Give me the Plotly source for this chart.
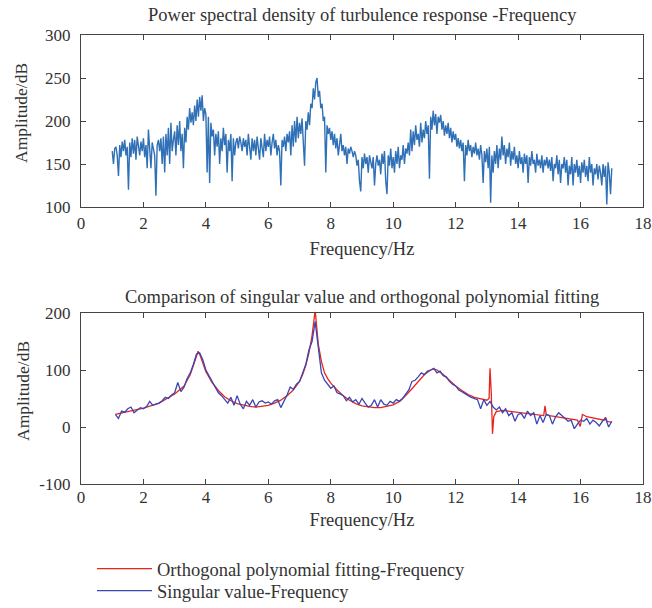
import numpy as np
import plotly.graph_objects as go

# ---------------- data ----------------
# Top: power spectral density (dB), frequency grid 1.00 .. 17.00 step 0.04 Hz
psd_freq = np.round(1.0 + 0.04 * np.arange(401), 2)
psd_db = [
    165, 150, 168, 170, 160, 136, 172, 158, 176, 165, 178, 160, 170, 120, 175, 158, 180, 162, 178, 155, 182, 168, 160, 176, 165,
    180, 158, 172, 145, 190, 170, 145, 175, 168, 160, 113, 172, 178, 165, 180, 150, 182, 140, 185, 160, 192, 150, 198, 165, 178,
    188, 160, 195, 172, 200, 165, 185, 145, 192, 175, 205, 190, 215, 198, 210, 195, 218, 200, 225, 205, 228, 212, 230, 200, 215,
    208, 140, 205, 128, 198, 182, 190, 160, 185, 170, 188, 150, 180, 165, 192, 172, 185, 140, 178, 165, 185, 130, 180, 160, 175,
    180, 168, 182, 175, 165, 180, 170, 178, 160, 185, 170, 155, 180, 165, 178, 160, 182, 168, 155, 180, 170, 158, 185, 165, 178,
    170, 182, 160, 175, 185, 168, 178, 160, 172, 165, 125, 178, 170, 182, 165, 185, 175, 188, 160, 195, 170, 200, 175, 205, 180,
    198, 185, 203, 180, 148, 200, 190, 210, 195, 220, 215, 238, 225, 245, 250, 228, 235, 215, 220, 200, 205, 140, 195, 185, 192,
    178, 188, 172, 185, 168, 180, 160, 175, 185, 165, 172, 160, 170, 150, 168, 162, 170, 165, 158, 165, 160, 148, 155, 130, 118,
    158, 145, 162, 150, 158, 140, 160, 152, 145, 158, 125, 150, 160, 148, 155, 138, 162, 150, 165, 130, 115, 160, 148, 168, 145,
    158, 140, 165, 150, 170, 145, 160, 155, 172, 150, 168, 162, 175, 160, 190, 165, 188, 172, 195, 178, 185, 170, 198, 175, 190,
    180, 200, 185, 195, 133, 205, 190, 212, 195, 208, 185, 205, 198, 207, 190, 200, 183, 195, 185, 198, 180, 192, 175, 188, 178,
    185, 170, 180, 168, 178, 165, 175, 130, 172, 160, 178, 165, 172, 158, 170, 162, 175, 160, 168, 155, 172, 160, 128, 165, 152,
    168, 145, 170, 105, 160, 140, 165, 150, 172, 145, 168, 155, 182, 160, 172, 150, 168, 158, 175, 148, 165, 155, 170, 150, 160,
    145, 165, 150, 158, 140, 162, 150, 160, 128, 158, 148, 165, 150, 155, 140, 162, 148, 155, 145, 160, 140, 155, 148, 158, 145,
    155, 142, 158, 130, 150, 145, 160, 138, 155, 128, 150, 145, 158, 140, 155, 125, 148, 138, 158, 125, 150, 140, 155, 135, 148,
    128, 152, 140, 155, 135, 148, 130, 158, 140, 150, 125, 145, 138, 150, 132, 148, 140, 125, 150, 135, 148, 103, 152, 140, 115,
    145,
]

# Bottom: singular value (dB), frequency grid 1.1 .. 17.0 step 0.1 Hz
sv_freq = np.round(1.1 + 0.1 * np.arange(160), 2)
sv_db = [
    22, 15, 28, 26, 32, 35, 25, 30, 34, 32,
    36, 45, 38, 40, 42, 46, 52, 50, 56, 60,
    78, 62, 70, 85, 95, 110, 128, 130, 118, 100,
    90, 78, 70, 60, 55, 48, 42, 52, 38, 55,
    40, 32, 45, 38, 48, 35, 44, 46, 42, 44,
    40, 46, 48, 34, 45, 56, 70, 66, 75, 80,
    95, 110, 135, 150, 185, 140, 95, 82, 75, 68,
    72, 60, 58, 55, 46, 52, 44, 48, 40, 50,
    42, 35, 38, 48, 35, 48, 40, 38, 45, 42,
    48, 45, 50, 58, 65, 80, 82, 88, 95, 92,
    98, 100, 103, 95, 98, 90, 88, 80, 75, 72,
    65, 62, 58, 55, 52, 50, 48, 32, 48, 38,
    45, 35, 30, 35, 25, 32, 20, 25, 10, 22,
    24, 15, 28, 20, 25, 5, 20, 8, 22, 20,
    5, 18, 25, 20, 15, 10, 12, -3, 5, 12,
    10, 15, 5, 12, 8, 2, 10, 15, 0, 10,
]

# Bottom: orthogonal polynomial fit (dB)
fit_freq = [
    1.1, 1.5, 2.0, 2.5, 3.0, 3.3, 3.5, 3.6, 3.7, 3.75, 3.8, 3.9, 4.0, 4.2, 4.4, 4.6, 4.8, 5.0,
    5.2, 5.4, 5.6, 5.8, 6.0, 6.2, 6.4, 6.6, 6.8, 7.0, 7.1, 7.2, 7.3, 7.4, 7.45, 7.5, 7.55, 7.6,
    7.7, 7.8, 7.9, 8.0, 8.2, 8.4, 8.6, 8.8, 9.0, 9.2, 9.4, 9.6, 9.8, 10.0, 10.2, 10.4, 10.6,
    10.8, 11.0, 11.2, 11.3, 11.4, 11.6, 11.8, 12.0, 12.2, 12.4, 12.6, 12.8, 13.0, 13.07, 13.1,
    13.14, 13.18, 13.22, 13.3, 13.5, 14.0, 14.5, 14.82, 14.86, 14.9, 15.0, 15.5, 15.9, 15.99,
    16.06, 16.2, 16.5, 16.75, 16.8, 16.85, 17.0,
]
fit_db = [
    22, 27, 33, 42, 58, 72, 92, 108, 125, 133, 128, 112, 97, 78, 64, 53, 46, 41,
    38, 36, 35, 36, 38, 42, 47, 55, 65, 80, 92, 108, 130, 160, 185, 205, 175, 145,
    115, 95, 85, 77, 65, 55, 47, 41, 37, 35, 34, 34, 36, 39, 45, 55, 67,
    80, 92, 100, 102, 100, 92, 82, 72, 64, 57, 52, 49, 47, 50, 103,
    60, -12, 18, 27, 29, 26, 22, 20, 37, 22, 20, 16, 12, 1,
    22, 18, 14, 12, 17, 10, 8,
]

x_ticks = list(range(0, 19, 2))
top_yticks = [100, 150, 200, 250, 300]
bot_yticks = [-100, 0, 100, 200]
bot_yticktext = ["-100", "0", "100", "200"]

# ---------------- figure ----------------
FONT = "Liberation Serif"
AX_COL = "#444444"
TXT_COL = "#333333"

# plot area in pixels: x 81..643, y 35..484
PL, PR, PT, PB = 81, 643, 35, 484


def xp(px):
    return (px - PL) / (PR - PL)


def yp(py):
    return (PB - py) / (PB - PT)


fig = go.Figure()
fig.add_trace(go.Scatter(x=psd_freq, y=psd_db, mode="lines",
                         line=dict(color="#2f70b6", width=1.4),
                         showlegend=False, xaxis="x", yaxis="y"))
fig.add_trace(go.Scatter(x=fit_freq, y=fit_db, mode="lines",
                         line=dict(color="#e8251c", width=1.3),
                         name="Orthogonal polynomial fitting-Frequency",
                         legend="legend", xaxis="x2", yaxis="y2"))
fig.add_trace(go.Scatter(x=sv_freq, y=sv_db, mode="lines",
                         line=dict(color="#3a46b2", width=1.3),
                         name="Singular value-Frequency",
                         legend="legend2", xaxis="x2", yaxis="y2"))

axis_common = dict(showline=True, mirror="ticks", linecolor=AX_COL, linewidth=1.3,
                   ticks="inside", ticklen=5, tickcolor=AX_COL, tickwidth=1.2,
                   showgrid=False, zeroline=False, ticklabeloverflow="allow",
                   tickfont=dict(family=FONT, size=17, color=TXT_COL))

xtitle_font = dict(family=FONT, size=18.5, color=TXT_COL)
legend_common = dict(xanchor="left", yanchor="top",
                     font=dict(family=FONT, size=18.5, color=TXT_COL),
                     itemwidth=55, tracegroupgap=0, bgcolor="rgba(0,0,0,0)")

fig.update_layout(
    width=652, height=608,
    margin=dict(l=PL, r=652 - PR, t=PT, b=608 - PB, autoexpand=False),
    paper_bgcolor="white", plot_bgcolor="white",
    font=dict(family=FONT, color=TXT_COL),
    xaxis=dict(domain=[0, 1], range=[0, 18], tickvals=x_ticks, anchor="y",
               title=dict(text="Frequency/Hz", font=xtitle_font, standoff=10),
               **axis_common),
    yaxis=dict(domain=[yp(207), 1], range=[100, 300], tickvals=top_yticks, anchor="x",
               ticklabelstandoff=6, **axis_common),
    xaxis2=dict(domain=[0, 1], range=[0, 18], tickvals=x_ticks, anchor="y2",
                ticklabelstandoff=-3,
                title=dict(text="Frequency/Hz", font=xtitle_font, standoff=7),
                **axis_common),
    yaxis2=dict(domain=[0, yp(313)], range=[-100, 200], tickvals=bot_yticks,
                ticktext=bot_yticktext, anchor="x2", ticklabelstandoff=6, **axis_common),
    legend=dict(x=xp(92), y=yp(550), **legend_common),
    legend2=dict(x=xp(92), y=yp(572), **legend_common),
    annotations=[
        dict(text="Power spectral density of turbulence response -Frequency", x=0.5, y=yp(15),
             xref="paper", yref="paper", showarrow=False, xanchor="center", yanchor="middle",
             font=dict(family=FONT, size=18.5, color=TXT_COL)),
        dict(text="Comparison of singular value and orthogonal polynomial fitting", x=0.5, y=yp(297),
             xref="paper", yref="paper", showarrow=False, xanchor="center", yanchor="middle",
             font=dict(family=FONT, size=18.5, color=TXT_COL)),
        dict(text="Amplitude/dB", x=xp(21), y=yp(113), xref="paper", yref="paper",
             xanchor="center", yanchor="middle",
             textangle=-90, showarrow=False, font=dict(family=FONT, size=17.5, color=TXT_COL)),
        dict(text="Amplitude/dB", x=xp(23), y=yp(391), xref="paper", yref="paper",
             xanchor="center", yanchor="middle",
             textangle=-90, showarrow=False, font=dict(family=FONT, size=17.5, color=TXT_COL)),
    ],
)

fig.write_html("out.html")
